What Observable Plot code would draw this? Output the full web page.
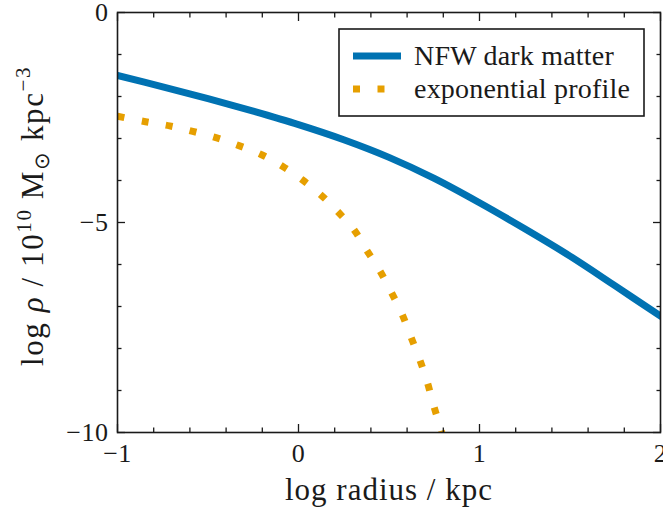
<!DOCTYPE html>
<html><head><meta charset="utf-8">
<script src="https://cdn.jsdelivr.net/npm/d3@7"></script>
<script src="https://cdn.jsdelivr.net/npm/@observablehq/plot@0.6"></script>
<style>
body{margin:0;background:#fff}
#chart{position:relative;width:663px;height:512px;overflow:hidden}
</style>
</head><body><div id="chart"></div>
<script>
// ---- data ----
const nfwLogR   = [-1, -0.75, -0.5, -0.25, 0, 0.25, 0.5, 0.75, 1, 1.25, 1.5, 1.75, 2];
const nfwLogRho = [-1.50, -1.77, -2.05, -2.35, -2.67, -3.03, -3.45, -3.95, -4.53, -5.15, -5.80, -6.51, -7.23];
const expLogR   = [-1.0, -0.845, -0.712, -0.584, -0.456, -0.329, -0.207, -0.089, 0.02, 0.123, 0.219, 0.308, 0.377, 0.451, 0.514, 0.571, 0.619, 0.667, 0.71, 0.745, 0.784, 0.81];
const expLogRho = [-2.47, -2.60, -2.70, -2.83, -2.98, -3.17, -3.38, -3.66, -3.98, -4.34, -4.75, -5.18, -5.66, -6.16, -6.67, -7.17, -7.70, -8.23, -8.78, -9.33, -9.89, -10.3];
const seriesNames  = ["NFW dark matter", "exponential profile"];
const seriesColors = ["#0072B2", "#E69F00"];
const xMajorTicks = [-1, 0, 1, 2];
const xMinorTicks = [-0.8, -0.6, -0.4, -0.2, 0.2, 0.4, 0.6, 0.8, 1.2, 1.4, 1.6, 1.8];
const yMajorTicks = [-10, -5, 0];
const yMinorTicks = [-9, -8, -7, -6, -4, -3, -2, -1];
const xLabel = "log radius / kpc";

const nfw = nfwLogR.map((r, i) => ({r, rho: nfwLogRho[i]}));
const expo = expLogR.map((r, i) => ({r, rho: expLogRho[i]}));

const FONT = "'Liberation Serif', 'Times New Roman', serif";
const fmt = d => d < 0 ? "\u2212" + Math.abs(d) : String(d);
const none = () => "";
const tickStyle = {stroke: "#1a1a1a", strokeWidth: 1.3, label: null};

const svg = Plot.plot({
  width: 663, height: 512,
  marginLeft: 117, marginRight: 3, marginTop: 12, marginBottom: 80,
  x: {domain: [-1, 2]},
  y: {domain: [-10, 0]},
  style: {fontFamily: FONT, fontSize: "26px", color: "#1a1a1a", background: "#fff", overflow: "hidden", letterSpacing: "0.5px"},
  marks: [
    Plot.line(nfw, {x: "r", y: "rho", stroke: seriesColors[0], strokeWidth: 7, curve: "catmull-rom", clip: true}),
    Plot.line(expo, {x: "r", y: "rho", stroke: seriesColors[1], strokeWidth: 7, strokeDasharray: "7,17.5", strokeLinecap: "butt", curve: "catmull-rom", clip: true}),
    Plot.axisX(xMajorTicks, {anchor: "bottom", tickSize: -8, tickPadding: 19, tickFormat: fmt, ...tickStyle}),
    Plot.axisX(xMinorTicks, {anchor: "bottom", tickSize: -4.5, tickFormat: none, ...tickStyle}),
    Plot.axisX(xMajorTicks, {anchor: "top", tickSize: -8, tickFormat: none, ...tickStyle}),
    Plot.axisX(xMinorTicks, {anchor: "top", tickSize: -4.5, tickFormat: none, ...tickStyle}),
    Plot.axisY(yMajorTicks, {anchor: "left", tickSize: -8, tickPadding: 17, tickFormat: fmt, ...tickStyle}),
    Plot.axisY(yMinorTicks, {anchor: "left", tickSize: -4.5, tickFormat: none, ...tickStyle}),
    Plot.axisY(yMajorTicks, {anchor: "right", tickSize: -8, tickFormat: none, ...tickStyle}),
    Plot.axisY(yMinorTicks, {anchor: "right", tickSize: -4.5, tickFormat: none, ...tickStyle}),
    Plot.frame({stroke: "#1a1a1a", strokeWidth: 1.6})
  ]
});
document.getElementById("chart").appendChild(svg);

const s = d3.select(svg);
// x label
s.append("text").attr("x", 389).attr("y", 500).attr("text-anchor", "middle")
  .attr("font-family", FONT).attr("font-size", 31).attr("letter-spacing", "1px").attr("fill", "#1a1a1a")
  .text(xLabel);

// y label (rotated, with super/subscripts)
const yl = s.append("text").attr("transform", "translate(43,216) rotate(-90)")
  .attr("text-anchor", "middle").attr("font-family", FONT).attr("font-size", 31)
  .attr("letter-spacing", "1.6px").attr("fill", "#1a1a1a");
yl.append("tspan").text("log ");
yl.append("tspan").attr("font-style", "italic").text("\u03C1");
yl.append("tspan").text(" / 10");
yl.append("tspan").attr("font-size", 21).attr("dy", -12).text("10");
yl.append("tspan").attr("dy", 12).text(" M");
yl.append("tspan").attr("font-size", 21).attr("dy", 6).text("\u2299");
yl.append("tspan").attr("dy", -6).text(" kpc");
yl.append("tspan").attr("font-size", 21).attr("dy", -13).text("\u2212" + "3");

// legend
const lg = s.append("g");
lg.append("rect").attr("x", 339).attr("y", 29).attr("width", 305).attr("height", 87)
  .attr("fill", "#fff").attr("stroke", "#1a1a1a").attr("stroke-width", 1.6);
const ly = [56, 89];
seriesNames.forEach((name, i) => {
  const ln = lg.append("line").attr("x1", 353).attr("x2", 401).attr("y1", ly[i]).attr("y2", ly[i])
    .attr("stroke", seriesColors[i]).attr("stroke-width", 7);
  if (i === 1) ln.attr("stroke-dasharray", "7,17.5");
  lg.append("text").attr("x", 414).attr("y", ly[i] + 9).attr("text-anchor", "start").attr("font-family", FONT)
    .attr("font-size", 28).attr("letter-spacing", "0.2px").attr("fill", "#1a1a1a").text(name);
});
</script>
</body></html>
